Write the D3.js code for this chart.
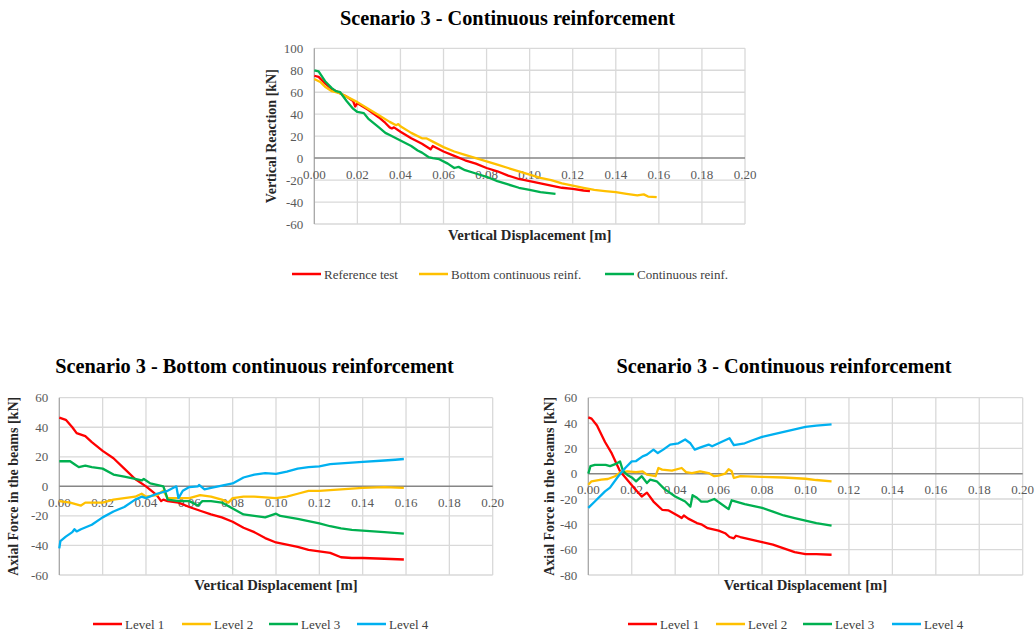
<!DOCTYPE html>
<html><head><meta charset="utf-8">
<script src="https://cdn.jsdelivr.net/npm/d3@7"></script>
<style>
html,body{margin:0;padding:0;background:#fff;}
svg{display:block;font-family:"Liberation Serif","Times New Roman",serif;}
</style></head>
<body>
<svg id="c" width="1035" height="634"></svg>
<script>
// ---------- DATA ----------
const xTicks = [0,0.02,0.04,0.06,0.08,0.10,0.12,0.14,0.16,0.18,0.20];
const topYTicks = [100,80,60,40,20,0,-20,-40,-60];
const blYTicks = [60,40,20,0,-20,-40,-60];
const brYTicks = [60,40,20,0,-20,-40,-60,-80];

// Top chart: Vertical Reaction [kN] vs displacement [m]
const refTest = [[0,75],[0.002,74],[0.005,68],[0.008,63],[0.010,61],[0.013,58],[0.015,56],[0.018,52],[0.019,47],[0.020,50],[0.025,44],[0.030,37],[0.033,32],[0.035,28],[0.036,27],[0.037,28],[0.040,24],[0.045,18],[0.050,13],[0.054,8],[0.055,11],[0.060,6],[0.065,2],[0.070,-2],[0.075,-5],[0.080,-9],[0.085,-12],[0.090,-16],[0.095,-19],[0.100,-21],[0.105,-23],[0.110,-25],[0.115,-27],[0.120,-28],[0.125,-29.5],[0.128,-30]];
const bottomCont = [[0,72],[0.003,69],[0.005,65],[0.008,61],[0.010,60],[0.012,59],[0.015,56],[0.020,51],[0.025,45],[0.030,39],[0.035,33],[0.038,30],[0.039,31],[0.040,29],[0.045,23],[0.050,18],[0.052,18],[0.055,15],[0.060,10],[0.065,6],[0.070,3],[0.075,0],[0.080,-3],[0.085,-6],[0.090,-9],[0.095,-12],[0.100,-15],[0.105,-18],[0.110,-20],[0.115,-23],[0.120,-25],[0.125,-27],[0.130,-29],[0.135,-30],[0.140,-31],[0.145,-32.5],[0.150,-34],[0.153,-33],[0.155,-35],[0.159,-35.5]];
const contReinf = [[0,80],[0.002,79],[0.005,70],[0.008,64],[0.010,61],[0.012,60],[0.015,52],[0.018,45],[0.020,42],[0.023,41],[0.025,36],[0.030,28],[0.033,23],[0.035,21],[0.040,16],[0.045,11],[0.048,7],[0.050,5],[0.053,1],[0.055,0],[0.058,-1],[0.062,-5],[0.065,-9],[0.067,-8],[0.070,-11],[0.075,-14],[0.080,-17],[0.085,-21],[0.090,-24],[0.095,-27],[0.100,-29],[0.105,-31],[0.112,-32.5]];

// Bottom-left: Bottom continuous reinforcement, axial force [kN]
const blLevel1 = [[0,46.5],[0.003,45],[0.006,40],[0.008,36],[0.012,34],[0.015,30],[0.020,24],[0.025,19],[0.030,12],[0.035,5],[0.040,0],[0.045,-6],[0.047,-10],[0.048,-9],[0.050,-10],[0.055,-11],[0.060,-14],[0.065,-16.5],[0.070,-19],[0.075,-21],[0.080,-24],[0.085,-28],[0.090,-31],[0.095,-35],[0.100,-38],[0.105,-39.5],[0.110,-41],[0.115,-43],[0.120,-44],[0.125,-45],[0.130,-48],[0.135,-48.5],[0.140,-48.5],[0.150,-49],[0.159,-49.5]];
const blLevel2 = [[0,-10],[0.005,-11],[0.010,-13],[0.012,-11],[0.020,-11],[0.025,-9],[0.030,-8],[0.035,-7],[0.038,-5],[0.040,-7],[0.045,-6],[0.048,-3],[0.050,-8],[0.055,-8],[0.060,-8],[0.065,-6],[0.070,-7],[0.075,-9],[0.078,-11],[0.080,-8],[0.085,-7],[0.090,-7],[0.100,-8],[0.105,-7],[0.110,-5],[0.115,-3],[0.120,-3],[0.130,-2],[0.140,-1],[0.150,-0.5],[0.159,-1]];
const blLevel3 = [[0,17],[0.005,17],[0.007,15],[0.009,13],[0.012,14],[0.015,13],[0.020,12],[0.025,8],[0.030,6.5],[0.035,5],[0.038,4],[0.039,5],[0.042,2],[0.045,1],[0.048,0],[0.049,-4],[0.050,-9],[0.055,-10],[0.060,-10],[0.064,-13],[0.066,-10],[0.070,-10],[0.075,-11],[0.080,-15],[0.085,-19],[0.090,-20],[0.095,-21],[0.100,-18.5],[0.102,-20],[0.110,-22],[0.120,-25],[0.125,-27],[0.130,-28.5],[0.135,-29.5],[0.140,-30],[0.150,-31],[0.159,-32]];
const blLevel4 = [[0,-42],[0.0005,-37],[0.003,-34],[0.006,-31],[0.007,-29],[0.008,-30.5],[0.010,-29],[0.015,-26],[0.020,-21],[0.025,-17],[0.030,-14],[0.035,-9],[0.038,-7],[0.040,-8],[0.045,-5],[0.050,-3],[0.054,0],[0.055,-8],[0.057,-3],[0.060,-0.5],[0.064,0],[0.0645,1],[0.067,-2],[0.070,-1],[0.075,0.5],[0.080,2],[0.085,6],[0.090,8],[0.095,9],[0.100,8.5],[0.105,10],[0.110,12],[0.115,13],[0.120,13.5],[0.125,15],[0.130,15.5],[0.140,16.5],[0.150,17.5],[0.155,18],[0.159,18.5]];

// Bottom-right: Continuous reinforcement, axial force [kN]
const brLevel1 = [[0,44.5],[0.0015,43.5],[0.004,38],[0.0077,25],[0.0108,16],[0.0146,2],[0.0185,-6],[0.0215,-12],[0.0246,-18],[0.027,-15],[0.030,-22],[0.034,-28.5],[0.037,-29],[0.0415,-33.5],[0.043,-35],[0.044,-33],[0.046,-35.5],[0.050,-39],[0.052,-40],[0.055,-43],[0.060,-45],[0.063,-47],[0.065,-50],[0.067,-51],[0.068,-49],[0.070,-50],[0.075,-52],[0.080,-54],[0.085,-56],[0.090,-59],[0.095,-62],[0.100,-63.5],[0.105,-63.5],[0.112,-64]];
const brLevel2 = [[0,-8.7],[0.0015,-6],[0.006,-4.7],[0.009,-4.2],[0.0123,-2],[0.015,1.3],[0.018,1.8],[0.022,1.3],[0.025,1.8],[0.027,-0.8],[0.031,-2],[0.0323,4.5],[0.034,3.2],[0.0385,2.4],[0.043,4.5],[0.045,1.3],[0.0477,0.5],[0.0515,1.8],[0.0554,0.5],[0.058,-2],[0.060,-1.5],[0.063,0],[0.0646,3.5],[0.066,2],[0.067,-3.4],[0.070,-2],[0.080,-2.5],[0.090,-3],[0.100,-4],[0.105,-5],[0.112,-6]];
const brLevel3 = [[0,0],[0.001,6],[0.003,7],[0.008,7],[0.010,6],[0.013,8],[0.0146,9.7],[0.016,2],[0.018,-1],[0.020,-3],[0.022,-6],[0.0246,-2],[0.027,-7.4],[0.0285,-4.7],[0.0315,-6],[0.035,-12],[0.040,-18],[0.0446,-22],[0.047,-26],[0.048,-17],[0.050,-19],[0.052,-22],[0.055,-22],[0.058,-20],[0.0646,-28],[0.066,-21],[0.072,-24],[0.080,-27],[0.085,-30],[0.090,-33],[0.095,-35],[0.100,-37],[0.105,-39],[0.112,-41]];
const brLevel4 = [[0,-27],[0.003,-22],[0.0077,-14],[0.010,-11],[0.0138,-2],[0.017,4.5],[0.020,9.7],[0.022,10],[0.025,13.7],[0.027,15],[0.030,19],[0.032,16.3],[0.0345,19],[0.0377,23],[0.0415,24],[0.0446,27],[0.047,24],[0.049,19],[0.052,21],[0.0554,23],[0.057,21.6],[0.060,24],[0.065,28],[0.067,22.5],[0.072,24],[0.075,26],[0.080,29],[0.085,31],[0.090,33],[0.095,35],[0.100,37],[0.105,38],[0.112,39]];

const topSeriesNames = ["Reference test","Bottom continuous reinf.","Continuous reinf."];
const levelNames = ["Level 1","Level 2","Level 3","Level 4"];
const colors = ["#ff0000","#ffc000","#00b050","#00b0f0"];

// ---------- DRAW ----------
const svg = d3.select("#c");

function panel(cfg){
  const g = svg.append("g");
  const x = d3.scaleLinear().domain([0,0.2]).range([cfg.x0,cfg.x1]);
  const y = d3.scaleLinear().domain([cfg.yMin,cfg.yMax]).range([cfg.y0,cfg.y1]);
  // horizontal gridlines
  g.append("g").selectAll("line").data(cfg.yTicks.filter(v=>v!==0)).join("line")
    .attr("x1",x(0)).attr("x2",x(0.2)).attr("y1",d=>y(d)).attr("y2",d=>y(d))
    .attr("stroke","#d9d9d9").attr("stroke-width",1.3);
  // vertical gridlines
  g.append("g").selectAll("line").data(xTicks.filter(v=>v>0)).join("line")
    .attr("x1",d=>x(d)).attr("x2",d=>x(d)).attr("y1",y(cfg.yMax)).attr("y2",y(cfg.yMin))
    .attr("stroke","#d9d9d9").attr("stroke-width",1.3);
  // y axis line
  g.append("line").attr("x1",x(0)).attr("x2",x(0)).attr("y1",y(cfg.yMax)).attr("y2",y(cfg.yMin))
    .attr("stroke","#a6a6a6").attr("stroke-width",1.3);
  // zero line
  g.append("line").attr("x1",x(0)).attr("x2",x(0.2)).attr("y1",y(0)).attr("y2",y(0))
    .attr("stroke","#868686").attr("stroke-width",1.5);
  // y tick labels
  g.append("g").selectAll("text").data(cfg.yTicks).join("text")
    .attr("x",x(0)-cfg.yLabOff).attr("y",d=>y(d)+4.5).attr("text-anchor","end")
    .attr("font-size",13).attr("fill","#595959").text(d=>d);
  // x tick labels
  g.append("g").selectAll("text").data(xTicks).join("text")
    .attr("x",d=>x(d)).attr("y",y(0)+20.5).attr("text-anchor","middle")
    .attr("font-size",13).attr("fill","#595959").text(d=>d3.format(".2f")(d));
  // series
  const line = d3.line().x(d=>x(d[0])).y(d=>y(d[1]));
  cfg.series.forEach((s,i)=>{
    g.append("path").datum(s).attr("d",line).attr("fill","none")
      .attr("stroke",cfg.colors[i]).attr("stroke-width",2.3).attr("stroke-linejoin","round");
  });
  // titles
  g.append("text").attr("x",cfg.titleX).attr("y",cfg.titleY).attr("text-anchor","middle")
    .attr("font-size",20.3).attr("font-weight","bold").attr("fill","#000").text(cfg.title);
  g.append("text").attr("x",(cfg.x0+cfg.x1)/2).attr("y",cfg.xTitleY).attr("text-anchor","middle")
    .attr("font-size",14.7).attr("font-weight","bold").attr("fill","#262626").text("Vertical Displacement [m]");
  g.append("text").attr("transform",`translate(${cfg.yTitleX},${(cfg.y0+cfg.y1)/2}) rotate(-90)`)
    .attr("text-anchor","middle")
    .attr("font-size",14).attr("font-weight","bold").attr("fill","#262626").text(cfg.yTitle);
  // legend
  const lg = g.append("g");
  cfg.legend.forEach((it,i)=>{
    lg.append("line").attr("x1",it[0]).attr("x2",it[0]+29).attr("y1",cfg.legY).attr("y2",cfg.legY)
      .attr("stroke",cfg.colors[i]).attr("stroke-width",2.5);
    lg.append("text").attr("x",it[0]+32).attr("y",cfg.legY+4.5).attr("font-size",13)
      .attr("fill","#404040").text(cfg.legNames[i]);
  });
}

panel({x0:314.3,x1:745,y0:224,y1:48.3,yMin:-60,yMax:100,yTicks:topYTicks,yLabOff:11,
  series:[refTest,bottomCont,contReinf],colors:colors,
  title:"Scenario 3 - Continuous reinforcement",titleX:507.5,titleY:25,
  xTitleY:240,yTitleX:276,yTitle:"Vertical Reaction [kN]",
  legend:[[292],[419],[605]],legY:274,legNames:topSeriesNames});

panel({x0:59.3,x1:492.7,y0:575,y1:397.7,yMin:-60,yMax:60,yTicks:blYTicks,yLabOff:11,
  series:[blLevel1,blLevel2,blLevel3,blLevel4],colors:colors,
  title:"Scenario 3 - Bottom continuous reinforcement",titleX:254.5,titleY:373,
  xTitleY:590,yTitleX:18,yTitle:"Axial Force in the beams [kN]",
  legend:[[93],[182],[269],[357]],legY:624,legNames:levelNames});

panel({x0:588.3,x1:1022.7,y0:575,y1:397.7,yMin:-80,yMax:60,yTicks:brYTicks,yLabOff:11,
  series:[brLevel1,brLevel2,brLevel3,brLevel4],colors:colors,
  title:"Scenario 3 - Continuous reinforcement",titleX:784,titleY:373,
  xTitleY:590,yTitleX:554,yTitle:"Axial Force in the beams [kN]",
  legend:[[628],[716],[803],[892]],legY:624,legNames:levelNames});
</script>
</body></html>
